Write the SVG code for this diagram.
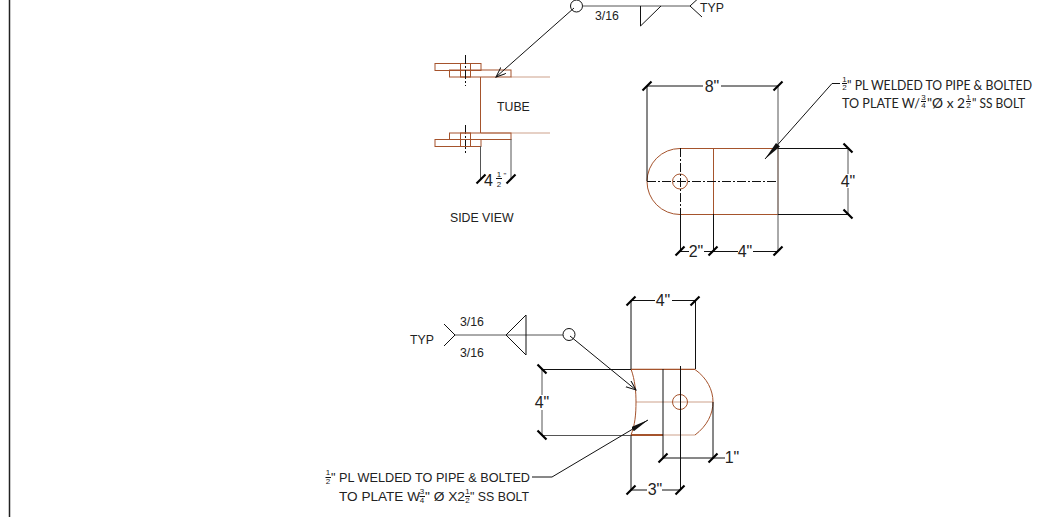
<svg xmlns="http://www.w3.org/2000/svg" width="1039" height="517" viewBox="0 0 1039 517">
<style>
text{font-family:"Liberation Sans",Arial,sans-serif;fill:#222}
.s{font-size:12.300px}.d{font-size:16px;text-anchor:middle}
.c{font-family:Lato,"Open Sans",sans-serif;font-size:12.500px}
.f{font-size:8px;text-anchor:middle}
.k{fill:none;stroke:#111;stroke-width:1}
.g{fill:none;stroke:#555;stroke-width:1}
.b{fill:none;stroke:#a5532c;stroke-width:1}
.l{fill:none;stroke:#a5532c;stroke-width:1;opacity:.55}
.cl{fill:none;stroke:#111;stroke-width:1;stroke-dasharray:9 2 2 2}
.t{stroke:#000;stroke-width:2.200;fill:none}
.bg{fill:#fff}
</style>
<defs>
<marker id="open" markerWidth="12" markerHeight="10" refX="10" refY="4" orient="auto" markerUnits="userSpaceOnUse"><path d="M0 0L10 4L0 8" fill="none" stroke="#111"/></marker>
<marker id="fill" markerWidth="20" markerHeight="6" refX="18" refY="2.500" orient="auto" markerUnits="userSpaceOnUse"><path d="M0 0L18 2.500L0 5Z" fill="#111"/></marker>
<path id="tk" d="M-4.500 4.500L4.500 -4.500" class="t"/>
<path id="tk2" d="M-4.500 -4.500L4.500 4.500" class="t"/>
</defs>
<g id="border"><path d="M9.500 0V517" stroke="#222" stroke-width="1.500" fill="none"/></g>

<g id="side-view">
<rect class="b" x="435" y="63.500" width="46" height="7"/>
<rect class="b" x="449.500" y="70" width="61.500" height="7"/>
<rect class="b" x="460.500" y="63.500" width="10" height="13.500"/>
<path class="cl" d="M465.500 55V86M465.500 125V155"/>
<path class="b" d="M480.500 77V133"/>
<path class="l" d="M511 77H550M481 133H550"/>
<rect class="b" x="449.500" y="133" width="61.500" height="6.500"/>
<rect class="b" x="435" y="139.500" width="46" height="7"/>
<rect class="b" x="460.500" y="133" width="10" height="13.500"/>
<text class="s" x="497" y="111">TUBE</text>
<text class="s" x="450" y="222">SIDE VIEW</text>
</g>

<g id="plate-top">
<path class="b" d="M680 148.500A33 33 0 0 0 680 214.500H778M680 148.500H778"/>
<path class="b" d="M713.500 148.500V214.500"/>
<path class="l" d="M778 148.500V214.500"/>
<circle class="b" cx="680" cy="181.500" r="7.500"/>
<path class="cl" d="M647 181.500H778M680.500 148V214"/>
</g>

<g id="plate-bottom">
<path class="l" d="M631 369H695M636 402H713M663 435H695"/>
<path class="b" d="M631 369.500H695M695 369.500C707 378 713 390 713 402C713 414 707 426 695 435"/>
<path class="b" d="M631 369C635 380 636 392 636 402C636 414 635 425 631 435"/>
<path d="M631 435H663" stroke="#a5532c" stroke-width="2" fill="none"/>
<circle class="b" cx="680" cy="402" r="7.500"/>
</g>

<g id="connectors">
<circle class="k" cx="576.500" cy="6" r="6"/>
<path class="g" d="M582.500 6H690"/>
<path class="k" d="M640.500 6V26L661 6M690 6L702 17M690 6L702 -5"/>
<path class="k" d="M574 8L496 77" marker-end="url(#open)"/>

<path class="g" d="M480.500 146V180M511 139V180"/>
<use href="#tk" x="481" y="179"/><use href="#tk" x="511" y="179"/>

<path class="k" d="M647 86H778M647 86V181M680.500 214V251M713.500 214V251"/>
<path class="g" d="M778 86V251M848 148.500V214.500"/>
<path class="k" d="M680 251.500H778M778 148.500H848M778 214.500H848"/>
<use href="#tk" x="647" y="86"/><use href="#tk" x="778" y="86"/>
<use href="#tk" x="680" y="251"/><use href="#tk" x="713" y="251"/><use href="#tk" x="778" y="251"/>
<use href="#tk2" x="848" y="148"/><use href="#tk2" x="848" y="214"/>
<path class="k" d="M840 83.500H832L765 159"/>
<path d="M765 159L776 143L780 146.500Z" fill="#111"/>

<path class="k" d="M444 324L455 335L444 346"/>
<path class="g" d="M455 335H563"/>
<path class="k" d="M526 315V355L506 335Z"/>
<circle class="k" cx="569" cy="334.500" r="6"/>
<path class="k" d="M570 336L636 390" marker-end="url(#open)"/>

<path class="k" d="M631 300.500H695M631 300V369M695.500 300V369M541 369.500H631M631 435V490M663 369V458M680.500 366V490M713 402V458M663 458H713M631 490H680"/>
<path class="k" d="M713 458H725"/>
<path class="g" d="M542 369V435M542 435.500H631"/>
<use href="#tk" x="631" y="301"/><use href="#tk" x="695" y="301"/>
<use href="#tk2" x="542" y="369"/><use href="#tk2" x="542" y="435"/>
<use href="#tk" x="663" y="458"/><use href="#tk" x="713" y="458"/>
<use href="#tk" x="631" y="490"/><use href="#tk" x="680" y="490"/>
<path class="k" d="M532 477H552L648 420" marker-end="url(#fill)"/>
</g>

<g id="labels">
<text class="s" x="595" y="20">3/16</text>
<text class="s" x="700" y="12">TYP</text>
<text class="d" x="488.500" y="186">4</text>
<text class="f" x="499" y="176.500">1</text><path class="k" d="M496 178.500H502"/><text class="f" x="499" y="187">2</text>
<text class="f" x="505" y="178">"</text>

<rect class="bg" x="703" y="78" width="18" height="16"/>
<text class="d" x="712" y="92">8"</text>
<rect class="bg" x="689" y="244" width="15" height="14"/>
<text class="d" x="696" y="257">2"</text>
<rect class="bg" x="738" y="244" width="15" height="14"/>
<text class="d" x="745" y="257">4"</text>
<rect class="bg" x="840" y="174" width="16" height="14"/>
<text class="d" x="848" y="187">4"</text>

<text class="f" x="844.500" y="81.500">1</text><path class="k" d="M842 83.500H847"/><text class="f" x="844.500" y="90">2</text>
<text class="c" x="847" y="90" textLength="185" lengthAdjust="spacingAndGlyphs">" PL WELDED TO PIPE &amp; BOLTED</text>
<text class="c" x="842" y="108" textLength="78" lengthAdjust="spacingAndGlyphs">TO PLATE W/</text>
<text class="f" x="923.500" y="99.500">3</text><path class="k" d="M921 101.500H926"/><text class="f" x="923.500" y="108">4</text>
<text class="c" x="927" y="108" textLength="38" lengthAdjust="spacingAndGlyphs">"Ø x 2</text>
<text class="f" x="968.500" y="99.500">1</text><path class="k" d="M966 101.500H971"/><text class="f" x="968.500" y="108">2</text>
<text class="c" x="972" y="108" textLength="53" lengthAdjust="spacingAndGlyphs">" SS BOLT</text>

<text class="s" x="460" y="326">3/16</text>
<text class="s" x="460" y="357">3/16</text>
<text class="s" x="410" y="344">TYP</text>

<rect class="bg" x="655" y="293" width="17" height="15"/>
<text class="d" x="663" y="306">4"</text>
<rect class="bg" x="534" y="395" width="16" height="15"/>
<text class="d" x="542" y="408">4"</text>
<text class="d" x="732" y="463">1"</text>
<rect class="bg" x="647" y="483" width="15" height="14"/>
<text class="d" x="655" y="495">3"</text>

<text class="f" x="328" y="475">1</text><path class="k" d="M325.500 477.500H331"/><text class="f" x="328" y="484">2</text>
<text class="s" x="331" y="482" textLength="199" lengthAdjust="spacingAndGlyphs">" PL WELDED TO PIPE &amp; BOLTED</text>
<text class="s" x="339" y="501" textLength="81" lengthAdjust="spacingAndGlyphs">TO PLATE W</text>
<text class="f" x="422" y="494">3</text><path class="k" d="M419.500 496.500H425"/><text class="f" x="422" y="503">4</text>
<text class="s" x="425" y="501" textLength="40" lengthAdjust="spacingAndGlyphs">" Ø X2</text>
<text class="f" x="467.500" y="494">1</text><path class="k" d="M465 496.500H470"/><text class="f" x="467.500" y="503">2</text>
<text class="s" x="470" y="501" textLength="59" lengthAdjust="spacingAndGlyphs">" SS BOLT</text>
</g>
</svg>
